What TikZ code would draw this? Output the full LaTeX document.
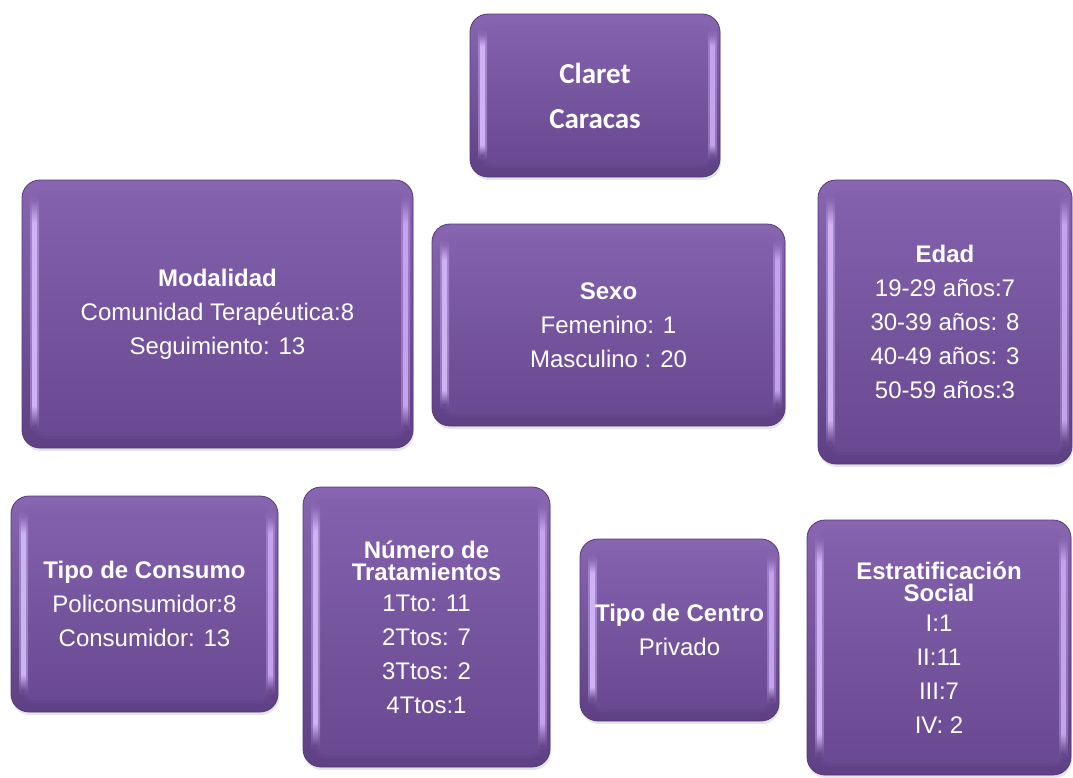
\documentclass[tikz,border=0pt]{standalone}
\usepackage{fontspec}
\setmainfont{Liberation Sans}
\newfontfamily\calibrifont{Carlito}
\usetikzlibrary{calc,shadows}
\definecolor{outTop}{HTML}{8866B1}
\definecolor{outBot}{HTML}{5E4084}
\definecolor{faceTop}{HTML}{8361AD}
\definecolor{faceBot}{HTML}{694991}
\definecolor{edgeC}{HTML}{553A78}
\definecolor{hiL}{HTML}{CDB2F4}
\definecolor{hiR}{HTML}{C2A3EC}
\pgfdeclareverticalshading{lstrip}{100bp}{color(0bp)=(outBot); color(25bp)=(outBot); color(30bp)=(hiL); color(70bp)=(hiL); color(75bp)=(outTop); color(100bp)=(outTop)}
\pgfdeclareverticalshading{rstrip}{100bp}{color(0bp)=(outBot); color(25bp)=(outBot); color(30bp)=(hiR); color(70bp)=(hiR); color(75bp)=(outTop); color(100bp)=(outTop)}
\tikzset{
  glass/.style={rounded corners=18pt, draw=edgeC, line width=0.8pt,
    top color=outTop, bottom color=outBot, text=white, align=center,
    font=\fontsize{24}{34}\selectfont, inner sep=0pt,
    drop shadow={opacity=0.2, shadow xshift=1pt, shadow yshift=-3pt},
    path picture={
      \coordinate (pnw) at (path picture bounding box.north west);
      \coordinate (pse) at (path picture bounding box.south east);
      \shade[top color=faceTop, bottom color=faceBot, rounded corners=10pt, opacity=0.6]
        ($(pnw)+(12pt,-11pt)$) rectangle ($(pse)+(-8pt,9pt)$);
      \shade[top color=faceTop, bottom color=faceBot, rounded corners=9pt]
        ($(pnw)+(15pt,-14pt)$) rectangle ($(pse)+(-10pt,12pt)$);
      \shade[shading=lstrip, rounded corners=3pt, opacity=0.45]
        ($(pnw)+(8pt,-16pt)$) rectangle ($(pnw |- pse)+(17pt,16pt)$);
      \shade[shading=lstrip, rounded corners=2pt]
        ($(pnw)+(10pt,-20pt)$) rectangle ($(pnw |- pse)+(15pt,20pt)$);
      \shade[shading=rstrip, rounded corners=3pt, opacity=0.45]
        ($(pse |- pnw)+(-12pt,-16pt)$) rectangle ($(pse)+(-3pt,16pt)$);
      \shade[shading=rstrip, rounded corners=2pt]
        ($(pse |- pnw)+(-10pt,-20pt)$) rectangle ($(pse)+(-5pt,20pt)$);
    }},
  bigfont/.style={font=\calibrifont\bfseries\fontsize{29}{45}\selectfont}
}
\begin{document}
\begin{tikzpicture}[x=1pt,y=-1pt]
\useasboundingbox[fill=white] (0,0) rectangle (1073,777);

\node[glass, bigfont, minimum width=250, minimum height=163] (claret) at (595,95.5) {Claret\\Caracas};

\node[glass, minimum width=391, minimum height=268] (modal) at (217.5,314)
  {\textbf{Modalidad}\\Comunidad Terapéutica:8\\Seguimiento: 13};

\node[glass, minimum width=353, minimum height=202] (sexo) at (608.5,325)
  {\textbf{Sexo}\\Femenino: 1\\ Masculino : 20};

\node[glass, minimum width=254, minimum height=284] (edad) at (945,322)
  {\textbf{Edad}\\19-29 años:7\\30-39 años: 8\\40-49 años: 3\\50-59 años:3};

\node[glass, minimum width=267, minimum height=216] (consumo) at (144.5,604)
  {\textbf{Tipo de Consumo}\\Policonsumidor:8\\Consumidor: 13};

\node[glass, minimum width=247, minimum height=280] (numero) at (426.5,627)
  {\textbf{Número de}\\[-12pt]\textbf{Tratamientos}\\[-3pt]1Tto: 11\\2Ttos: 7\\3Ttos: 2\\4Ttos:1};

\node[glass, minimum width=199, minimum height=182] (centro) at (679.5,630)
  {\textbf{Tipo de Centro}\\Privado};

\node[glass, minimum width=264, minimum height=255] (estrat) at (939,647.5)
  {\textbf{Estratificación}\\[-12pt]\textbf{Social}\\[-4pt]I:1\\II:11\\III:7\\IV: 2};
\end{tikzpicture}
\end{document}
